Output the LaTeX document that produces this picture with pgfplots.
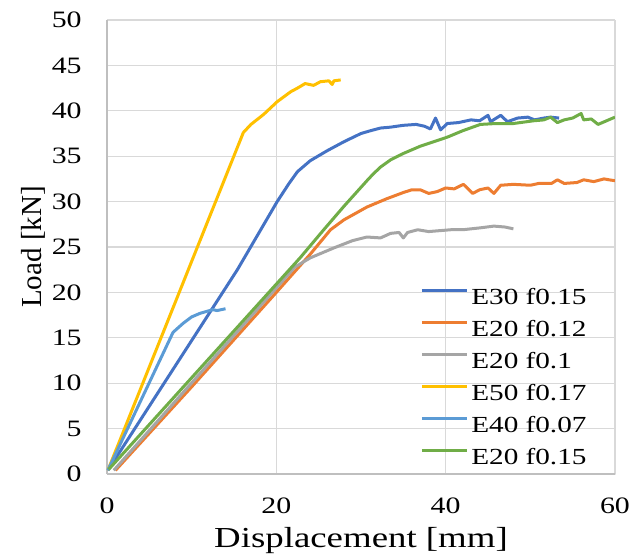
\documentclass[border=0pt]{standalone}
\usepackage{fontspec}
\setmainfont{Liberation Serif}[FakeStretch=1.27]
\newfontfamily\plainserif{Liberation Serif}
\usepackage{pgfplots}
\pgfplotsset{compat=1.18}
\definecolor{sBlue}{HTML}{4472C4}
\definecolor{sOrange}{HTML}{ED7D31}
\definecolor{sGray}{HTML}{A5A5A5}
\definecolor{sYellow}{HTML}{FFC000}
\definecolor{sLBlue}{HTML}{5B9BD5}
\definecolor{sGreen}{HTML}{70AD47}
\definecolor{axisc}{HTML}{BFBFBF}
\begin{document}
\begin{tikzpicture}
\useasboundingbox (-53.5pt,-40.5pt) rectangle (267pt,237pt);
\begin{axis}[
    scale only axis,
    width=254pt, height=227pt,
    xmin=0, xmax=60, ymin=0, ymax=50,
    xtick={0,20,40,60},
    ytick={0,5,...,50},
    axis x line*=bottom,
    axis y line*=left,
    axis line style={axisc, line width=0.75pt},
    tick align=inside,
    major tick length=0.01pt,
    tick style={axisc},
    xmajorgrids, ymajorgrids,
    grid style={gray!30, line width=0.6pt},
    /pgf/number format/assume math mode=true,
    tick label style={font=\fontsize{11.75}{13}\selectfont, inner sep=0pt},
    yticklabel style={xshift=-12.5pt},
    xticklabel style={yshift=-11.5pt},
    every axis x label/.style={at={(rel axis cs:0.5,-0.161)}, anchor=base},
    every axis y label/.style={at={(rel axis cs:-0.128,0.5)}, anchor=base, rotate=90},
    xlabel={\fontsize{14.5}{16}\selectfont Displacement [mm]},
    ylabel={\fontsize{14.5}{16}\selectfont\plainserif Load [kN]},
    legend style={at={(rel axis cs:0.616,0.418)}, anchor=north west, draw=none, fill=none,
        inner sep=0pt, column sep=1.5pt, row sep=0pt,
        font=\fontsize{11.5}{13}\selectfont,
        nodes={inner sep=0pt, text height=10pt, text depth=6pt}},
    legend cell align=left,
    legend image code/.code={\draw[#1] (0pt,5pt) -- (22.5pt,5pt);},
    every axis plot/.append style={line width=1.5pt, line join=round},
]
\addplot[sBlue] coordinates {(0.1,0.4) (15.4,22.5) (20.1,30.0) (21.5,32.0) (22.5,33.3) (24,34.5) (26,35.6) (28,36.6) (30,37.5) (31.1,37.8) (32.3,38.1) (33.5,38.2) (35,38.4) (36.5,38.5) (37.5,38.3) (38.2,38.0) (38.8,39.2) (39.4,37.9) (40.2,38.6) (41.5,38.7) (43,39.0) (44,38.9) (45,39.5) (45.3,38.8) (46.5,39.5) (47.3,38.8) (48.5,39.2) (49.7,39.3) (50.5,39.0) (51.6,39.2) (52.4,39.3) (53.4,39.2)};
\addlegendentry{E30 f0.15}
\addplot[sOrange] coordinates {(1.0,0.4) (10,9.6) (20,20.0) (24,24.2) (26.4,26.9) (28,28.0) (30.7,29.4) (33,30.3) (35,31.0) (36,31.3) (37,31.3) (38,30.9) (39,31.1) (40,31.5) (41,31.4) (42.1,31.9) (43.2,30.9) (44,31.3) (45,31.5) (45.7,30.9) (46.5,31.8) (48,31.9) (50,31.8) (51,32.0) (52.5,32.0) (53.2,32.4) (54,32.0) (55.5,32.1) (56.3,32.4) (57.5,32.2) (58.7,32.5) (59.3,32.4) (60,32.3)};
\addlegendentry{E20 f0.12}
\addplot[sGray] coordinates {(0.8,0.4) (22.2,22.8) (24,23.8) (26.8,24.9) (29,25.7) (30.7,26.1) (32.3,26.0) (33.5,26.5) (34.5,26.6) (35,26.0) (35.5,26.6) (36.7,26.9) (38,26.7) (40.6,26.9) (42,26.9) (44,27.1) (45.7,27.3) (47,27.2) (48,27.0)};
\addlegendentry{E20 f0.1}
\addplot[sYellow] coordinates {(0.1,0.4) (16.1,37.6) (17,38.5) (18.5,39.6) (20.1,41.0) (21.7,42.1) (22.5,42.5) (23.4,43.0) (24.4,42.8) (25.2,43.2) (26.2,43.3) (26.6,42.9) (26.8,43.3) (27.6,43.4)};
\addlegendentry{E50 f0.17}
\addplot[sLBlue] coordinates {(0.1,0.4) (7.8,15.6) (9,16.6) (10,17.3) (11,17.7) (12.5,18.1) (13,18.0) (14,18.2)};
\addlegendentry{E40 f0.07}
\addplot[sGreen] coordinates {(0.2,0.5) (22.8,23.8) (25.6,26.9) (28,29.5) (30.7,32.3) (31.4,33.0) (32.3,33.8) (33.5,34.6) (35,35.3) (37,36.1) (40.2,37.1) (42,37.8) (44.1,38.5) (46,38.6) (48,38.6) (50.4,38.9) (51.6,39.0) (52.4,39.3) (53.2,38.7) (54,39.0) (55,39.2) (56,39.7) (56.3,39.0) (57.2,39.1) (58,38.5) (59,38.9) (60,39.3)};
\addlegendentry{E20 f0.15}
\end{axis}
\end{tikzpicture}
\end{document}
